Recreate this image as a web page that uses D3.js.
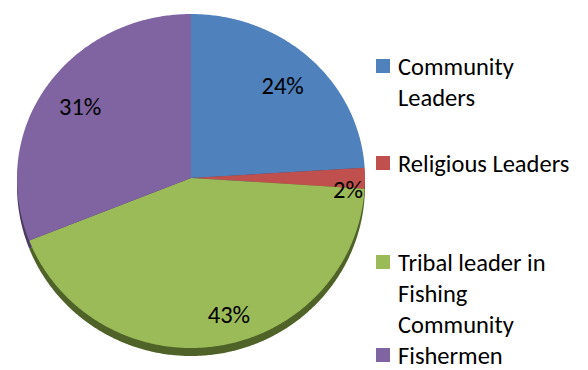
<!DOCTYPE html>
<html>
<head>
<meta charset="utf-8">
<script src="https://cdn.jsdelivr.net/npm/d3@7/dist/d3.min.js"></script>
<style>
  html, body { margin: 0; padding: 0; background: #fff; }
  svg { display: block; }
  text { font-family: Carlito, Calibri, Lato, "Open Sans", sans-serif; fill: #000; }
</style>
</head>
<body>
<svg id="chart" width="588" height="370"></svg>
<script>
// Share of respondents by group
const categories = ["Community Leaders", "Religious Leaders", "Tribal leader in Fishing Community", "Fishermen"];
const values = [24, 2, 43, 31];
const valueLabels = ["24%", "2%", "43%", "31%"];
const legendLines = [["Community", "Leaders"], ["Religious Leaders"], ["Tribal leader in", "Fishing", "Community"], ["Fishermen"]];
const colors = ["#4f81bd", "#c0504d", "#9bbb59", "#8064a2"];
const sideColors = ["#2f4d71", "#73302e", "#4f6228", "#4c3c61"];

const svg = d3.select("#chart");

// tilted pie geometry: slightly flattened top half, deeper front half
const cx = 191, cy = 178, rx = 174, ryTop = 164, ryBot = 170, depth = 8;

function proj(a, r, dy = 0) {
  const c = Math.cos(a);
  return [cx + r * rx * Math.sin(a), cy + dy - r * (c > 0 ? ryTop : ryBot) * c];
}

const pie = d3.pie().sort(null).value(d => d)(values);
const line = d3.line();

function slicePath(d, dy) {
  const pts = [proj(0, 0, dy)];
  const n = Math.max(2, Math.ceil((d.endAngle - d.startAngle) / 0.01));
  for (let i = 0; i <= n; i++) {
    const a = d.startAngle + (d.endAngle - d.startAngle) * i / n;
    pts.push(proj(a, 1, dy));
  }
  return line(pts) + "Z";
}

// side wall (shifted copy beneath)
svg.append("g").selectAll("path")
  .data(pie).join("path")
  .attr("d", d => slicePath(d, depth))
  .attr("fill", (d, i) => sideColors[i]);

// top face
svg.append("g").selectAll("path")
  .data(pie).join("path")
  .attr("d", d => slicePath(d, 0))
  .attr("fill", (d, i) => colors[i]);

// value labels: angle offset (radians) and radial fraction per slice
const labelPlace = [
  { da: 0, r: 0.77 },
  { da: 0.077, r: 0.905 },
  { da: -0.107, r: 0.835 },
  { da: 0, r: 0.77 }
];
svg.append("g").selectAll("text")
  .data(pie).join("text")
  .attr("x", (d, i) => proj((d.startAngle + d.endAngle) / 2 + labelPlace[i].da, labelPlace[i].r)[0])
  .attr("y", (d, i) => proj((d.startAngle + d.endAngle) / 2 + labelPlace[i].da, labelPlace[i].r)[1])
  .attr("text-anchor", "middle")
  .attr("dominant-baseline", "central")
  .attr("font-size", 24.5)
  .text((d, i) => valueLabels[i]);

// legend
const legendBase = [75, 172, 271, 364];
const lineH = 30.8;
const lg = svg.append("g");
categories.forEach((c, i) => {
  lg.append("rect")
    .attr("x", 376).attr("y", legendBase[i] - 16)
    .attr("width", 14).attr("height", 14)
    .attr("fill", colors[i]);
  const t = lg.append("text")
    .attr("x", 398).attr("y", legendBase[i])
    .attr("font-size", 24.5);
  legendLines[i].forEach((s, j) => {
    t.append("tspan").attr("x", 398).attr("dy", j === 0 ? 0 : lineH).text(s);
  });
});
</script>
</body>
</html>
